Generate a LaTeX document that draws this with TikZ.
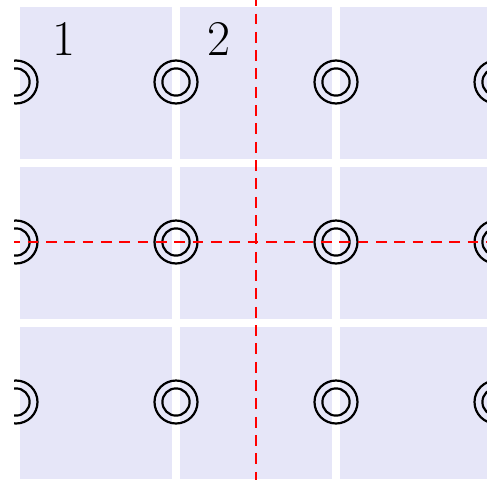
\documentclass[tikz,border=0pt]{standalone}
\usepackage{fontspec}
\definecolor{cellfill}{RGB}{230,230,248}
\tikzset{
  cellbox/.style={fill=cellfill, draw=none},
  ringline/.style={draw=black, line width=2.2pt},
  guide/.style={draw=red, line width=2.2pt, dash pattern=on 10.8pt off 7.53pt},
  numlabel/.style={anchor=base, inner sep=0pt, font=\fontsize{50}{60}\selectfont}
}
\begin{document}
\begin{tikzpicture}[x=1pt,y=-1pt]
\useasboundingbox (0,0) rectangle (487,480);
\begin{scope}
\clip (14,0) rectangle (487,480);
% cells
\foreach \i in {0,1,2}{
  \foreach \j in {0,1,2}{
    \path[cellbox] ({20+160*\i},{6.5+160*\j}) rectangle ({172+160*\i},{158.5+160*\j});
  }
}
% rings
\foreach \i in {0,1,2,3}{
  \foreach \j in {0,1,2}{
    \coordinate (r\i\j) at ({16+160*\i},{82+160*\j});
    \draw[ringline] (r\i\j) circle[radius=21.5];
    \draw[ringline] (r\i\j) circle[radius=13.6];
  }
}
% guides
\coordinate (vtop) at (256,0);
\coordinate (vbot) at (256,480);
\coordinate (hl) at (0,242);
\coordinate (hr) at (487,242);
\draw[guide, dash phase=4.83pt] (vtop) -- (vbot);
\draw[guide, dash phase=9pt] (hl) -- (hr);
\end{scope}
\node[numlabel] (n1) at (64,55) {1};
\node[numlabel] (n2) at (219,55) {2};
\end{tikzpicture}
\end{document}
